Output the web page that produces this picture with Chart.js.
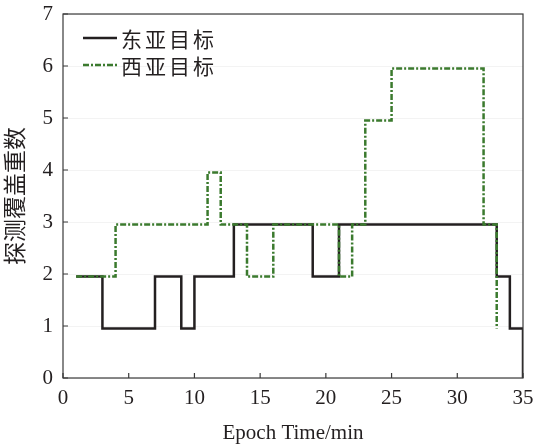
<!DOCTYPE html>
<html>
<head>
<meta charset="utf-8">
<script src="https://cdn.jsdelivr.net/npm/chart.js@4.4.0/dist/chart.umd.min.js"></script>
<style>
  html, body { margin: 0; padding: 0; background: #fff; }
  #wrap { width: 534px; height: 446px; }
</style>
</head>
<body>
<div id="wrap"><canvas id="coverChart" width="534" height="446"></canvas></div>
<script>
// ---- data ----
var eastLabel = '东亚目标';
var westLabel = '西亚目标';
var eastTimes = [1, 3, 7, 9, 10, 13, 19, 21, 33, 34, 35];
var eastCover = [1.95, 0.95, 1.95, 0.95, 1.95, 2.95, 1.95, 2.95, 1.95, 0.95, 0];
var westTimes = [1, 4, 11, 12, 14, 16, 21, 22, 23, 25, 32, 33];
var westCover = [1.95, 2.95, 3.95, 2.95, 1.95, 2.95, 1.95, 2.95, 4.95, 5.95, 2.95, 0.95];
var xTicks = [0, 5, 10, 15, 20, 25, 30, 35];
var yTicks = [0, 1, 2, 3, 4, 5, 6, 7];

function toPoints(xs, ys) {
    var pts = [];
    xs.forEach(function (x, i) { pts.push({ x: x, y: ys[i] }); });
    return pts;
}

var eastColor = '#231f20';
var westColor = '#3b7a2e';
var serif = '"Liberation Serif", "DejaVu Serif", serif';
var cjk = '"Noto Sans CJK SC", sans-serif';

// inward ticks, frame and the in-plot legend
var framePlugin = {
    id: 'frame',
    afterDraw: function (chart) {
        var ctx = chart.ctx, a = chart.chartArea;
        var sx = chart.scales.x, sy = chart.scales.y;
        ctx.save();
        ctx.strokeStyle = '#3a3a3a';
        ctx.lineWidth = 1.2;
        ctx.beginPath();
        xTicks.forEach(function (t) {
            var px = sx.getPixelForValue(t);
            ctx.moveTo(px, a.bottom);
            ctx.lineTo(px, a.bottom - 5);
        });
        yTicks.forEach(function (t) {
            var py = sy.getPixelForValue(t);
            ctx.moveTo(a.left, py);
            ctx.lineTo(a.left + 5, py);
        });
        ctx.stroke();
        ctx.strokeRect(a.left, a.top, a.right - a.left, a.bottom - a.top);

        // legend
        var items = [
            { label: eastLabel, color: eastColor, dash: [] },
            { label: westLabel, color: westColor, dash: [6, 2, 2, 2] }
        ];
        ctx.font = '21px ' + cjk;
        ctx.letterSpacing = '3px';
        ctx.textBaseline = 'middle';
        items.forEach(function (it, i) {
            var y = a.top + 24 + i * 27;
            ctx.strokeStyle = it.color;
            ctx.lineWidth = 2.5;
            ctx.setLineDash(it.dash);
            ctx.beginPath();
            ctx.moveTo(a.left + 20, y);
            ctx.lineTo(a.left + 54, y);
            ctx.stroke();
            ctx.setLineDash([]);
            ctx.fillStyle = '#231f20';
            ctx.fillText(it.label, a.left + 58, y + 1);
        });
        ctx.restore();
    }
};

var ctx = document.getElementById('coverChart').getContext('2d');
var coverChart = new Chart(ctx, {
    type: 'line',
    data: {
        datasets: [{
            label: eastLabel,
            data: toPoints(eastTimes, eastCover),
            borderColor: eastColor,
            borderWidth: 2.5,
            stepped: 'before',
            pointRadius: 0,
            fill: false,
            order: 1
        }, {
            label: westLabel,
            data: toPoints(westTimes, westCover),
            borderColor: westColor,
            borderWidth: 2.5,
            borderDash: [6, 2, 2, 2],
            stepped: 'before',
            pointRadius: 0,
            fill: false,
            order: 0
        }]
    },
    options: {
        responsive: false,
        animation: false,
        layout: { padding: { top: 14, right: 11, left: 0, bottom: 0 } },
        plugins: {
            legend: { display: false },
            tooltip: { enabled: false }
        },
        scales: {
            x: {
                type: 'linear',
                min: 0,
                max: 35,
                afterFit: function (s) { s.height = 68; s.paddingRight = 0; s.paddingLeft = 0; },
                afterBuildTicks: function (s) { s.ticks = xTicks.map(function (v) { return { value: v }; }); },
                grid: { display: false, drawTicks: false },
                border: { display: false },
                ticks: { color: '#231f20', font: { family: serif, size: 21 }, padding: 8, maxRotation: 0 },
                title: { display: true, text: 'Epoch Time/min', color: '#231f20', font: { family: serif, size: 21 }, padding: { top: 0, bottom: 0 } }
            },
            y: {
                min: 0,
                max: 7,
                afterFit: function (s) { s.width = 63; s.paddingTop = 0; s.paddingBottom = 0; },
                afterBuildTicks: function (s) { s.ticks = yTicks.map(function (v) { return { value: v }; }); },
                grid: { color: '#f3f3f3', drawTicks: false },
                border: { display: false },
                ticks: { color: '#231f20', font: { family: serif, size: 21 }, padding: 10 },
                title: { display: true, text: '探测覆盖重数', color: '#231f20', font: { family: cjk, size: 23 }, padding: { top: 0, bottom: 0 } }
            }
        }
    },
    plugins: [framePlugin]
});
</script>
</body>
</html>
